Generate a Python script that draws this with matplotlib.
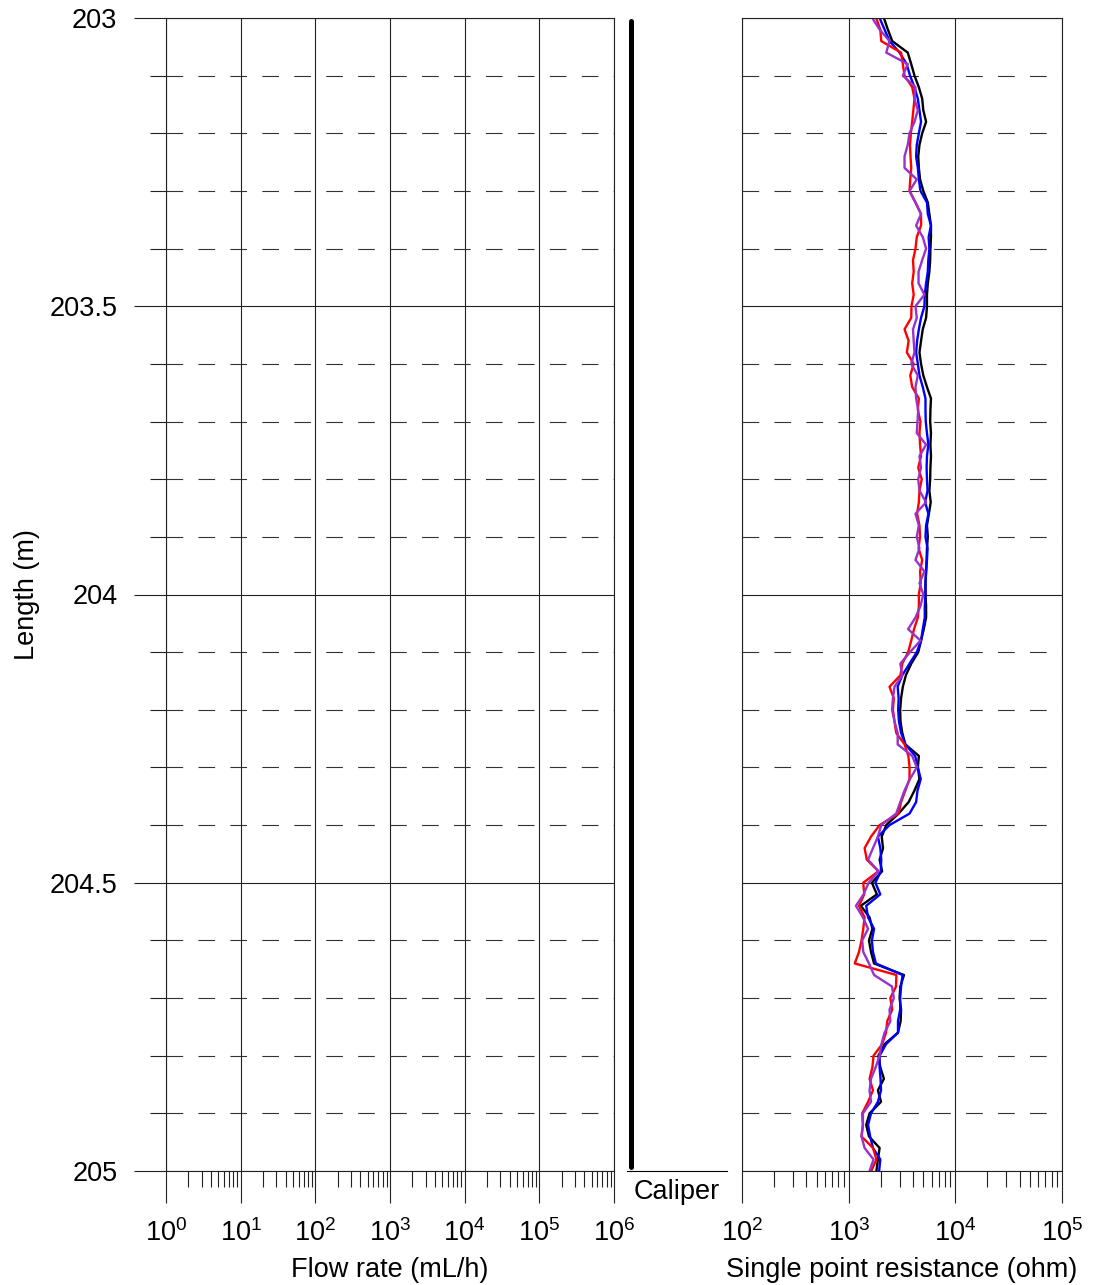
import numpy as np
import matplotlib
matplotlib.use("Agg")
import matplotlib.pyplot as plt
from matplotlib.ticker import LogLocator, MultipleLocator, FuncFormatter, NullFormatter

plt.rcParams['font.family'] = ['Liberation Sans', 'DejaVu Sans']
plt.rcParams['mathtext.default'] = 'regular'
plt.rcParams['lines.scale_dashes'] = False

# Depth samples (m), every 2 cm from 203 to 205
depth = np.linspace(203.0, 205.0, 101)

# Single point resistance (ohm), four repeated runs
res_black = [2140, 2330, 2560, 3580, 3860, 4140, 4550, 4890, 5010, 5320,
             4890, 4610, 4490, 4550, 4670, 5010, 5520, 5710, 5910, 5910,
             5840, 5810, 5710, 5520, 5420, 5420, 5320, 4950, 4770, 4610,
             4770, 5010, 5420, 5910, 5840, 5810, 5910, 5840, 5910, 5840,
             5810, 5710, 5880, 5650, 5420, 5520, 5420, 5380, 5320, 5250,
             5250, 5320, 5320, 5060, 4770, 4490, 3860, 3440, 3220, 3100,
             3040, 3060, 3180, 3400, 4550, 4450, 4610, 4140, 3650, 2940,
             2250, 2040, 2100, 1950, 2060, 1650, 1840, 1300, 1570, 1670,
             1550, 1620, 1730, 3300, 3050, 3000, 3100, 3070, 2900, 2170,
             1900, 1980, 2140, 1880, 2010, 1570, 1460, 1550, 1950, 1880,
             1820]
res_blue = [1950, 2170, 2416, 3000, 3500, 3760, 4140, 4450, 4610, 4770,
            4550, 4350, 4290, 4450, 4550, 4710, 5420, 5520, 5910, 5620,
            5710, 5580, 5520, 5320, 5170, 5130, 4770, 4550, 4380, 4290,
            4450, 4610, 4950, 5250, 5250, 5280, 5420, 5590, 5420, 5380,
            5420, 5490, 5210, 5590, 5320, 5250, 5490, 5420, 5320, 5250,
            5250, 5170, 5170, 4950, 4770, 4350, 3720, 3180, 2880, 2940,
            2910, 2960, 3100, 3400, 4200, 4450, 4740, 4420, 4290, 3720,
            2416, 1880, 1980, 2020, 2000, 1780, 1980, 1460, 1520, 1730,
            1650, 1690, 1800, 3200, 3100, 3040, 3040, 2900, 2900, 2240,
            1950, 1950, 1990, 2010, 1880, 1620, 1520, 1590, 1690, 1980,
            1930]
res_red = [1810, 1980, 2020, 3100, 3220, 3340, 3940, 4140, 4040, 3940,
           3830, 3760, 3800, 3860, 3780, 3720, 4230, 4770, 4770, 4350,
           4230, 4010, 4070, 3940, 4070, 3880, 3860, 3340, 3650, 3510,
           4070, 3780, 3940, 4550, 4450, 4710, 4610, 4670, 4770, 4490,
           4840, 4610, 4550, 4380, 4610, 4670, 4520, 4890, 4670, 4740,
           4550, 4550, 4450, 4100, 3860, 3610, 3180, 3060, 2416, 2650,
           2600, 2690, 2790, 3340, 3630, 3720, 3720, 3400, 3100, 2940,
           1950, 1620, 1411, 1480, 1900, 1370, 1400, 1250, 1410, 1370,
           1320, 1250, 1140, 2800, 2780, 2460, 2560, 2300, 2240, 2060,
           1710, 1670, 1570, 1690, 1520, 1340, 1360, 1320, 1690, 1820,
           1630]
res_purple = [1665, 1950, 2416, 2250, 3580, 3220, 4230, 4140, 4450, 4140,
              3720, 3580, 3340, 3340, 4350, 3720, 4230, 4770, 4290, 4950,
              5320, 4890, 4520, 4520, 5130, 4230, 4350, 4010, 4070, 4140,
              3860, 4450, 4230, 4290, 4490, 4420, 4350, 5320, 4610, 4770,
              4490, 4610, 5320, 4230, 4550, 4350, 4610, 4230, 5130, 4610,
              5010, 4710, 4230, 3610, 4710, 3760, 3050, 3180, 2690, 2600,
              2550, 2690, 2880, 2880, 3940, 4350, 3760, 3340, 3050, 2790,
              2020, 1880, 1690, 1520, 1900, 1540, 1380, 1170, 1360, 1520,
              1340, 1370, 1550, 1730, 2550, 2650, 2416, 2460, 2170, 2030,
              1950, 1790, 1620, 1570, 1620, 1360, 1360, 1320, 1410, 1710,
              1570]

# Caliper trace (constant over the section)
caliper_depth = [203.005, 204.993]
caliper_value = [4, 4]

run_colors = ['black', '#0000ff', '#ff0000', '#9932cc']

fig = plt.figure(figsize=(10.94, 12.85), dpi=100)
ax_flow = fig.add_axes([166 / 1094, 114 / 1285, 448 / 1094, 1153 / 1285])
ax_cal = fig.add_axes([627 / 1094, 114 / 1285, 100 / 1094, 1153 / 1285])
ax_res = fig.add_axes([742 / 1094, 114 / 1285, 320 / 1094, 1153 / 1285])

for ax, lims in [(ax_flow, (1, 1e6)), (ax_res, (1e2, 1e5))]:
    ax.set_xscale('log')
    ax.set_xlim(*lims)
    ax.set_ylim(205, 203)
    ax.xaxis.set_major_locator(LogLocator(base=10, numticks=20))
    ax.xaxis.set_minor_locator(LogLocator(base=10, subs=range(2, 10), numticks=20))
    ax.xaxis.set_minor_formatter(NullFormatter())
    ax.yaxis.set_major_locator(MultipleLocator(0.5))
    ax.yaxis.set_minor_locator(MultipleLocator(0.1))
    ax.yaxis.set_major_formatter(FuncFormatter(lambda v, p: '%g' % v))
    ax.set_axisbelow(True)
    ax.grid(True, which='major', axis='both', color='#222222', lw=0.8)
    ax.grid(True, which='minor', axis='y', color='#333333', lw=0.8,
            linestyle=(0, (12, 11)))
    ax.xaxis.grid(False, which='minor')
    for s in ax.spines.values():
        s.set_linewidth(0.8)
        s.set_color('#222222')
    ax.tick_params(axis='both', which='major', direction='out', length=23,
                   width=0.8, color='#222222', labelsize=19.5)
    ax.tick_params(axis='both', which='minor', direction='out', length=11.5,
                   width=0.8, color='#222222')
    ax.tick_params(axis='x', which='major', pad=12)
    ax.tick_params(axis='y', which='major', pad=12)

ax_flow.set_xlabel('Flow rate (mL/h)', fontsize=19.5, labelpad=7)
ax_flow.set_ylabel('Length (m)', fontsize=19.5, labelpad=7)

# Resistance panel: no depth ticks
ax_res.tick_params(axis='y', which='both', length=0, labelleft=False)
for vals, c in zip([res_black, res_blue, res_red, res_purple], run_colors):
    ax_res.plot(vals, depth, color=c, lw=1.7)
ax_res.set_xlabel('Single point resistance (ohm)', fontsize=19.5, labelpad=7)

# Caliper strip
ax_cal.set_xlim(0, 100)
ax_cal.set_ylim(205, 203)
ax_cal.plot(caliper_value, caliper_depth, color='black', lw=3.6,
            solid_capstyle='round')
for side in ['top', 'left', 'right']:
    ax_cal.spines[side].set_visible(False)
ax_cal.spines['bottom'].set_linewidth(0.8)
ax_cal.set_xticks([])
ax_cal.set_yticks([])
ax_cal.patch.set_alpha(0)
ax_cal.set_xlabel('Caliper', fontsize=19.5, labelpad=6)

fig.savefig('out.png', dpi=100)
